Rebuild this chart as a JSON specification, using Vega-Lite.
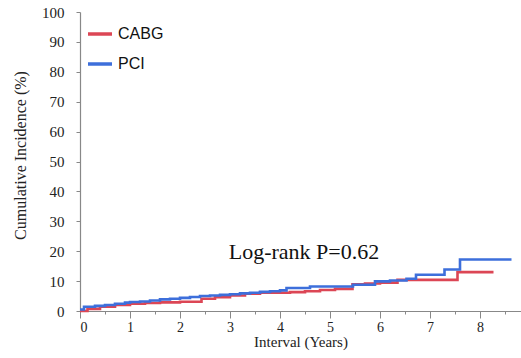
{
  "$schema": "https://vega.github.io/schema/vega-lite/v6.json",
  "autosize": "none",
  "width": 441,
  "height": 299,
  "padding": {"left": 80, "top": 12, "right": 0, "bottom": 47},
  "background": "white",
  "config": {"view": {"stroke": null}},
  "encoding": {
    "x": {
      "field": "t", "type": "quantitative",
      "scale": {"domain": [0, 8.82], "nice": false, "zero": false},
      "axis": {
        "values": [0, 0.5, 1, 1.5, 2, 2.5, 3, 3.5, 4, 4.5, 5, 5.5, 6, 6.5, 7, 7.5, 8, 8.5],
        "labelExpr": "datum.value % 1 === 0 ? '' + datum.value : ''",
        "labelOverlap": false,
        "grid": false,
        "title": "Interval (Years)",
        "titleFont": "Liberation Serif", "titleFontSize": 15, "titleFontWeight": "normal", "titleColor": "#222",
        "titleY": 23,
        "labelFont": "Liberation Serif", "labelFontSize": 14, "labelColor": "#222",
        "labelPadding": 2,
        "domainColor": "#888", "tickColor": "#888", "domainWidth": 1.2,
        "tickSize": {"condition": {"test": "datum.value % 1 === 0", "value": 7}, "value": 3}
      }
    },
    "y": {
      "field": "v", "type": "quantitative",
      "scale": {"domain": [0, 100], "nice": false},
      "axis": {
        "values": [0, 10, 20, 30, 40, 50, 60, 70, 80, 90, 100],
        "labelOverlap": false,
        "grid": false,
        "title": "Cumulative Incidence (%)",
        "titleFont": "Liberation Serif", "titleFontSize": 16, "titleFontWeight": "normal", "titleColor": "#222",
        "titlePadding": 13,
        "titleY": 143,
        "labelFont": "Liberation Serif", "labelFontSize": 15, "labelColor": "#222",
        "labelPadding": 12,
        "domainColor": "#888", "tickColor": "#888", "domainWidth": 1.2,
        "tickSize": 4
      }
    }
  },
  "layer": [
    {
      "data": {"values": [
        {"group": "CABG", "t": 0, "v": 0},
        {"group": "CABG", "t": 0.15, "v": 0.7},
        {"group": "CABG", "t": 0.4, "v": 1.4},
        {"group": "CABG", "t": 0.7, "v": 2.0},
        {"group": "CABG", "t": 1.0, "v": 2.4},
        {"group": "CABG", "t": 1.3, "v": 2.7},
        {"group": "CABG", "t": 1.6, "v": 2.9},
        {"group": "CABG", "t": 2.0, "v": 3.1},
        {"group": "CABG", "t": 2.43, "v": 4.1},
        {"group": "CABG", "t": 2.7, "v": 4.6},
        {"group": "CABG", "t": 3.0, "v": 5.2},
        {"group": "CABG", "t": 3.3, "v": 5.8},
        {"group": "CABG", "t": 3.6, "v": 6.1},
        {"group": "CABG", "t": 4.2, "v": 6.3},
        {"group": "CABG", "t": 4.5, "v": 6.6},
        {"group": "CABG", "t": 4.8, "v": 7.0},
        {"group": "CABG", "t": 5.1, "v": 7.4},
        {"group": "CABG", "t": 5.45, "v": 8.9},
        {"group": "CABG", "t": 5.7, "v": 9.2},
        {"group": "CABG", "t": 6.0, "v": 9.5},
        {"group": "CABG", "t": 6.35, "v": 10.4},
        {"group": "CABG", "t": 7.55, "v": 13.0},
        {"group": "CABG", "t": 8.27, "v": 13.0},
        {"group": "PCI", "t": 0, "v": 0.5},
        {"group": "PCI", "t": 0.08, "v": 1.4},
        {"group": "PCI", "t": 0.3, "v": 1.7},
        {"group": "PCI", "t": 0.5, "v": 2.0},
        {"group": "PCI", "t": 0.7, "v": 2.4},
        {"group": "PCI", "t": 0.9, "v": 2.8},
        {"group": "PCI", "t": 1.0, "v": 3.0},
        {"group": "PCI", "t": 1.2, "v": 3.2},
        {"group": "PCI", "t": 1.4, "v": 3.5},
        {"group": "PCI", "t": 1.6, "v": 3.9},
        {"group": "PCI", "t": 1.8, "v": 4.1},
        {"group": "PCI", "t": 2.0, "v": 4.4},
        {"group": "PCI", "t": 2.2, "v": 4.7},
        {"group": "PCI", "t": 2.4, "v": 5.0},
        {"group": "PCI", "t": 2.6, "v": 5.2},
        {"group": "PCI", "t": 2.8, "v": 5.4},
        {"group": "PCI", "t": 3.0, "v": 5.6},
        {"group": "PCI", "t": 3.2, "v": 5.9},
        {"group": "PCI", "t": 3.4, "v": 6.1},
        {"group": "PCI", "t": 3.6, "v": 6.4},
        {"group": "PCI", "t": 3.8, "v": 6.6},
        {"group": "PCI", "t": 4.0, "v": 6.9},
        {"group": "PCI", "t": 4.13, "v": 7.7},
        {"group": "PCI", "t": 4.6, "v": 8.2},
        {"group": "PCI", "t": 5.46, "v": 8.8},
        {"group": "PCI", "t": 5.9, "v": 9.9},
        {"group": "PCI", "t": 6.2, "v": 10.2},
        {"group": "PCI", "t": 6.53, "v": 10.8},
        {"group": "PCI", "t": 6.72, "v": 12.1},
        {"group": "PCI", "t": 7.29, "v": 13.9},
        {"group": "PCI", "t": 7.6, "v": 17.2},
        {"group": "PCI", "t": 8.63, "v": 17.2}
      ]},
      "mark": {"type": "line", "interpolate": "step-after", "strokeWidth": 2.6},
      "encoding": {
        "color": {
          "field": "group", "type": "nominal",
          "scale": {"domain": ["CABG", "PCI"], "range": ["#DC4655", "#3D6FDB"]},
          "legend": {
            "title": null, "orient": "none", "legendX": 6, "legendY": 8,
            "symbolType": "stroke", "symbolSize": 576, "symbolStrokeWidth": 3.5,
            "labelFont": "Liberation Sans", "labelFontSize": 16, "labelColor": "#111",
            "labelOffset": 4, "rowPadding": 8
          }
        }
      }
    },
    {
      "data": {"values": [{"t": 4.48, "v": 17.5, "label": "Log-rank P=0.62"}]},
      "mark": {"type": "text", "align": "center", "baseline": "alphabetic", "font": "Liberation Serif", "fontSize": 22, "color": "#111"},
      "encoding": {
        "text": {"field": "label"}
      }
    }
  ]
}
